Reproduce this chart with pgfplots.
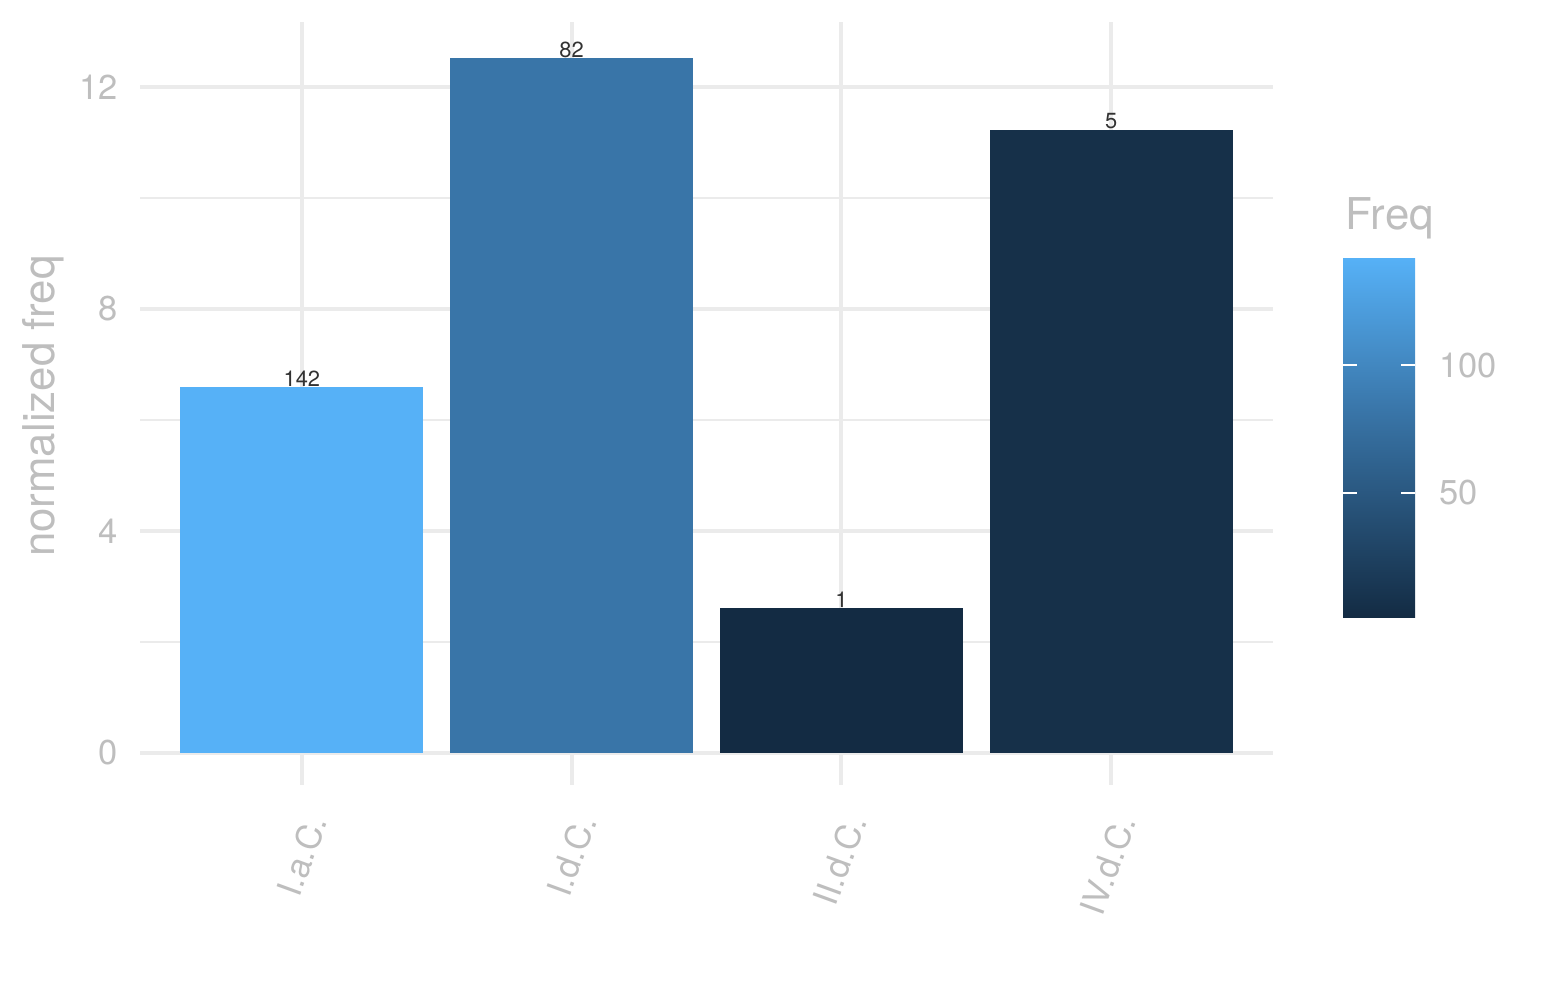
\documentclass[border=0pt]{standalone}
\usepackage{fontspec}
\setmainfont{TeX Gyre Heros}
\usepackage{pgfplots}
\pgfplotsset{compat=1.18}
\definecolor{txtgray}{RGB}{190,190,190}
\definecolor{labgray}{RGB}{50,50,50}
\definecolor{gridgray}{RGB}{235,235,235}
\definecolor{cA}{RGB}{86,177,247}
\definecolor{cB}{RGB}{57,117,168}
\definecolor{cC}{RGB}{19,43,67}
\definecolor{cD}{RGB}{22,48,73}
\begin{document}
\begin{tikzpicture}
\path[use as bounding box] (-46.67pt,-71.67pt) rectangle (468.33pt,261.67pt);
\begin{axis}[
  scale only axis, width=377.67pt, height=254.33pt,
  xmin=0.4, xmax=4.6, ymin=-0.58, ymax=13.17,
  axis line style={draw=none},
  tick style={draw=none},
  major tick length=0pt, minor tick length=0pt,
  xtick={1,2,3,4}, xticklabels={I.a.C.,I.d.C.,II.d.C.,IV.d.C.},
  ytick={0,4,8,12}, minor ytick={2,6,10},
  xmajorgrids=true, ymajorgrids=true, yminorgrids=true,
  major grid style={gridgray, line width=1.4pt},
  minor grid style={gridgray, line width=0.7pt},
  tick label style={font=\fontsize{11.5}{13}\selectfont, text=txtgray},
  /pgf/number format/assume math mode=true,
  yticklabel style={xshift=-3.9pt},
  xticklabel style={inner sep=0pt, xshift=4.8pt, yshift=-10.4pt, rotate=70, anchor=east},
  colorbar,
  point meta min=1, point meta max=142,
  colormap={ggb}{rgb255(0cm)=(19,43,67) rgb255(57.4cm)=(57,117,168) rgb255(100cm)=(86,177,247)},
  colorbar/width=24pt,
  colorbar style={
    at={(parent axis.south east)}, anchor=south west,
    xshift=14.8pt, yshift=55.67pt,
    height=120pt,
    axis line style={draw=none},
    axis on top=true,
    ytick={50,100},
    ytick pos=both, yticklabel pos=right,
    ytick align=inside,
    major tick length=4.7pt,
    every tick/.style={draw=white, line width=0.8pt},
    yticklabel style={font=\fontsize{11.5}{13}\selectfont, text=txtgray, xshift=4.5pt},
    /pgf/number format/assume math mode=true,
  },
  nodes near coords style={inner sep=0pt, font=\fontsize{7.3}{8}\selectfont, text=labgray},
]
\addplot[ybar, bar width=0.9, fill=cA, draw=none, nodes near coords={142}] coordinates {(1,6.59)};
\addplot[ybar, bar width=0.9, fill=cB, draw=none, nodes near coords={82}] coordinates {(2,12.52)};
\addplot[ybar, bar width=0.9, fill=cC, draw=none, nodes near coords={1}] coordinates {(3,2.61)};
\addplot[ybar, bar width=0.9, fill=cD, draw=none, nodes near coords={5}] coordinates {(4,11.23)};
\end{axis}
\node[anchor=base west, inner sep=0pt, text=txtgray, font=\fontsize{14.6}{16}\selectfont] at (401.67pt,185pt) {Freq};
\node[rotate=90, inner sep=0pt, text=txtgray, font=\fontsize{14.6}{16}\selectfont] at (-32.3pt,126.3pt) {normalized freq};
\end{tikzpicture}
\end{document}
